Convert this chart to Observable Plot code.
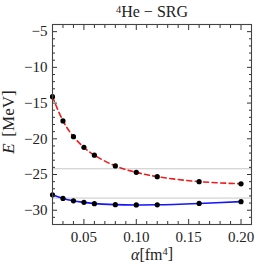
<!DOCTYPE html>
<html>
<head>
<meta charset="utf-8">
<script src="https://cdn.jsdelivr.net/npm/d3@7"></script>
<script src="https://cdn.jsdelivr.net/npm/@observablehq/plot@0.6"></script>
<style>
  html, body { margin: 0; padding: 0; background: #fff; }
  svg text, svg tspan { font-family: 'Liberation Serif', 'Times New Roman', serif !important; }
</style>
</head>
<body>
<div id="chart"></div>
<script>
// data
const alpha = [0.02, 0.03, 0.04, 0.05, 0.06, 0.08, 0.10, 0.12, 0.16, 0.20];
const energyRed = [-14.1, -17.5, -19.7, -21.2, -22.3, -23.8, -24.7, -25.3, -26.0, -26.3];
const energyBlue = [-27.85, -28.35, -28.68, -28.9, -29.08, -29.22, -29.26, -29.24, -29.05, -28.8];
const refLines = [-24.2, -28.3];
const xTicks = [0.05, 0.10, 0.15, 0.20];
const xMinor = [0.02, 0.03, 0.04, 0.06, 0.07, 0.08, 0.09, 0.11, 0.12, 0.13, 0.14, 0.16, 0.17, 0.18, 0.19, 0.21];
const yTicks = [-30, -25, -20, -15, -10, -5];
const yMinor = d3.range(-32, -3).filter(v => v % 5 !== 0);
const titleText = "4He − SRG";
const xLabel = "α[fm4]";
const yLabelVar = "E";
const yLabelUnit = "[MeV]";

const red = alpha.map((a, i) => ({a, e: energyRed[i]}));
const blue = alpha.map((a, i) => ({a, e: energyBlue[i]}));

const serif = "'Liberation Serif', 'Times New Roman', serif";
const fmtY = d => (d < 0 ? "\u2212" + Math.abs(d) : String(d));
const ink = "#333";

const plot = Plot.plot({
  width: 258,
  height: 268,
  marginLeft: 52,
  marginRight: 7,
  marginTop: 24,
  marginBottom: 44,
  style: {fontFamily: serif, fontSize: "15px", background: "#fff", color: "#222"},
  x: {domain: [0.02, 0.21], label: null},
  y: {domain: [-32, -4], label: null},
  marks: [
    Plot.ruleY(refLines, {stroke: "#c8c8c8", strokeWidth: 1}),
    Plot.line(blue, {x: "a", y: "e", stroke: "#1414ff", strokeWidth: 1.6, curve: "catmull-rom", clip: true}),
    Plot.line(red, {x: "a", y: "e", stroke: "#ee1c1c", strokeWidth: 1.6, strokeDasharray: "5,3.5", curve: "catmull-rom", clip: true}),
    Plot.dot(red, {x: "a", y: "e", r: 2.6, fill: "black", stroke: "none"}),
    Plot.dot(blue, {x: "a", y: "e", r: 2.6, fill: "black", stroke: "none"}),
    // tick labels
    Plot.axisY(yTicks, {anchor: "left", tickSize: 0, tickPadding: 5, tickFormat: fmtY, fontSize: 15, fontFamily: serif, fill: "#222", label: null}),
    Plot.axisX(xTicks, {anchor: "bottom", tickSize: 0, tickPadding: 7, tickFormat: d3.format(".2f"), fontSize: 15, fontFamily: serif, fill: "#222", label: null}),
    // inward major ticks
    Plot.axisY(yTicks, {anchor: "left", tickSize: 5, dx: 5, text: null, stroke: ink, label: null}),
    Plot.axisY(yTicks, {anchor: "right", tickSize: 5, dx: -5, text: null, stroke: ink, label: null}),
    Plot.axisX(xTicks, {anchor: "bottom", tickSize: 5, dy: -5, text: null, stroke: ink, label: null}),
    Plot.axisX(xTicks, {anchor: "top", tickSize: 5, dy: 5, text: null, stroke: ink, label: null}),
    // inward minor ticks
    Plot.axisY(yMinor, {anchor: "left", tickSize: 3, dx: 3, text: null, stroke: ink, label: null}),
    Plot.axisY(yMinor, {anchor: "right", tickSize: 3, dx: -3, text: null, stroke: ink, label: null}),
    Plot.axisX(xMinor, {anchor: "bottom", tickSize: 3, dy: -3, text: null, stroke: ink, label: null}),
    Plot.axisX(xMinor, {anchor: "top", tickSize: 3, dy: 3, text: null, stroke: ink, label: null}),
    Plot.frame({stroke: "#444", strokeWidth: 1.1}),
    // title and axis labels
    Plot.text([titleText], {frameAnchor: "top", dy: -7, lineAnchor: "bottom", textAnchor: "middle", fontSize: 16, fill: "#222"}),
    Plot.text([xLabel], {frameAnchor: "bottom", dy: 35, lineAnchor: "bottom", textAnchor: "middle", fontSize: 16, fill: "#222"}),
    Plot.text([yLabelVar], {frameAnchor: "left", dx: -39, dy: 24, rotate: -90, lineAnchor: "bottom", textAnchor: "middle", fontSize: 17, fontStyle: "italic", fill: "#222"}),
    Plot.text([yLabelUnit], {frameAnchor: "left", dx: -39, dy: -11, rotate: -90, lineAnchor: "bottom", textAnchor: "middle", fontSize: 17, fill: "#222"})
  ]
});

// rich text (italic / superscripts) via tspans
function richify(svg, plain, parts) {
  svg.querySelectorAll("text").forEach(t => {
    if (t.textContent === plain) {
      t.textContent = "";
      parts.forEach(p => {
        const ts = document.createElementNS("http://www.w3.org/2000/svg", "tspan");
        ts.textContent = p.t;
        if (p.italic) ts.setAttribute("font-style", "italic");
        if (p.sup) { ts.setAttribute("font-size", "0.65em"); ts.setAttribute("dy", "-0.45em"); }
        if (p.down) ts.setAttribute("dy", p.down);
        t.appendChild(ts);
      });
    }
  });
}
document.getElementById("chart").appendChild(plot);
richify(plot, titleText, [{t: "4", sup: true}, {t: "He − SRG", down: "0.29em"}]);
richify(plot, xLabel, [{t: "α", italic: true}, {t: "[fm"}, {t: "4", sup: true}, {t: "]", down: "0.29em"}]);
plot.querySelectorAll("text").forEach(t => t.setAttribute("font-family", serif));
</script>
</body>
</html>
